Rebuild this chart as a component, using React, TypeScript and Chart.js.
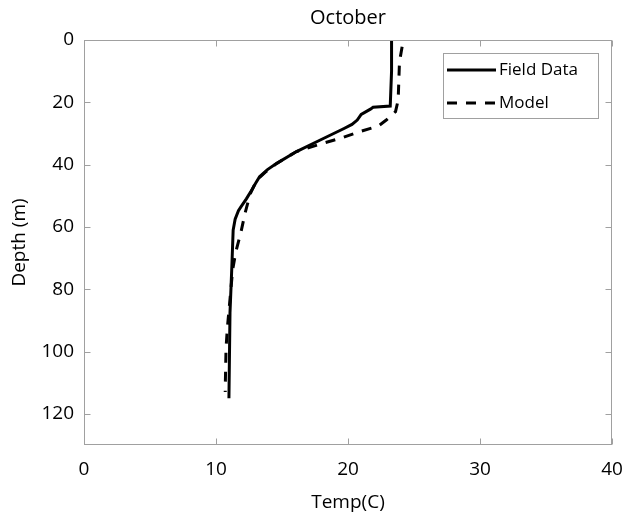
import React, { useEffect, useRef } from "react";
import { Chart, registerables } from "chart.js";

Chart.register(...registerables);

// ---- data ----
const chartTitle = "October";
const xLabel = "Temp(C)";
const yLabel = "Depth (m)";
const seriesLabels = ["Field Data", "Model"];

const fieldTemp = [23.3, 23.3, 23.2, 21.9, 21.7, 21.0, 20.7, 20.3, 19.7, 17.9, 16.1, 14.6, 13.9, 13.3, 13.0, 12.7, 12.3, 11.9, 11.7, 11.45, 11.3, 11.2, 11.06, 10.98];
const fieldDepth = [0, 10, 21.2, 21.6, 22.2, 23.9, 25.7, 27.1, 28.4, 32.1, 35.8, 39.6, 41.6, 43.9, 46, 48.2, 51, 53.5, 54.8, 57.5, 61, 72.8, 87.6, 115];

const modelTemp = [24.1, 23.9, 23.8, 23.6, 22.9, 22.3, 20.9, 19.4, 17.9, 16.1, 14.6, 13.8, 13.1, 12.6, 12.2, 11.9, 11.5, 11.26, 11.0, 10.86, 10.76, 10.7, 10.7];
const modelDepth = [2.2, 7.0, 19.3, 23, 25.7, 27.6, 29.4, 31.6, 33.4, 35.8, 39.6, 42.2, 44.9, 49.3, 55.6, 61.5, 68, 73.8, 86, 92.5, 99, 111.8, 113];

const xTicks = [0, 10, 20, 30, 40];
const yTicks = [0, 20, 40, 60, 80, 100, 120];
const xMin = 0, xMax = 40, yMin = 0, yMax = 130;

const FONT = "'Open Sans', 'Noto Sans', sans-serif";
const AXIS = "#a0a0a0";
const DASH = [10, 9];

const framePlugin = {
  id: "frame",
  afterDatasetsDraw(chart: any) {
    const { ctx, chartArea: a, scales } = chart;
    ctx.save();
    ctx.strokeStyle = AXIS;
    ctx.lineWidth = 1;
    ctx.setLineDash([]);
    const L = Math.round(a.left) + 0.5, R = Math.round(a.right) - 0.5;
    const T = Math.round(a.top) + 0.5, B = Math.round(a.bottom) - 0.5;
    ctx.strokeRect(L, T, R - L, B - T);
    const tl = 6;
    ctx.beginPath();
    for (const v of xTicks) {
      const px = Math.round(scales.x.getPixelForValue(v)) + 0.5;
      ctx.moveTo(px, B); ctx.lineTo(px, B - tl);
      ctx.moveTo(px, T); ctx.lineTo(px, T + tl);
    }
    for (const v of yTicks) {
      const py = Math.round(scales.y.getPixelForValue(v)) + 0.5;
      ctx.moveTo(L, py); ctx.lineTo(L + tl, py);
      ctx.moveTo(R, py); ctx.lineTo(R - tl, py);
    }
    ctx.stroke();
    ctx.restore();
  },
  afterDraw(chart: any) {
    const { ctx } = chart;
    const bx = 443, by = 53, bw = 155, bh = 65;
    ctx.save();
    ctx.fillStyle = "#fff";
    ctx.fillRect(bx, by, bw, bh);
    ctx.strokeStyle = AXIS;
    ctx.lineWidth = 1;
    ctx.strokeRect(bx + 0.5, by + 0.5, bw, bh);
    const rows = [by + 17, by + 50];
    chart.data.datasets.forEach((ds: any, i: number) => {
      const y = rows[i];
      ctx.strokeStyle = "#000";
      ctx.lineWidth = 3;
      ctx.setLineDash(ds.borderDash || []);
      ctx.beginPath();
      ctx.moveTo(447, y);
      ctx.lineTo(496, y);
      ctx.stroke();
      ctx.setLineDash([]);
      ctx.fillStyle = "#000";
      ctx.font = `17px ${FONT}`;
      ctx.textBaseline = "middle";
      ctx.textAlign = "left";
      ctx.fillText(ds.label, 499, y);
    });
    ctx.restore();
  },
};

export default function App() {
  const ref = useRef<HTMLCanvasElement | null>(null);
  useEffect(() => {
    if (!ref.current) return;
    const chart = new Chart(ref.current, {
      type: "scatter",
      data: {
        datasets: [
          {
            label: seriesLabels[0],
            data: fieldTemp.map((t, i) => ({ x: t, y: fieldDepth[i] })),
            showLine: true,
            borderColor: "#000",
            backgroundColor: "#000",
            borderWidth: 3,
            pointRadius: 0,
            tension: 0,
          },
          {
            label: seriesLabels[1],
            data: modelTemp.map((t, i) => ({ x: t, y: modelDepth[i] })),
            showLine: true,
            borderColor: "#000",
            backgroundColor: "#000",
            borderWidth: 3,
            borderDash: DASH,
            pointRadius: 0,
            tension: 0,
          },
        ],
      },
      options: {
        animation: false,
        responsive: false,
        maintainAspectRatio: false,
        layout: { padding: { left: 0, right: 16, top: 0, bottom: 0 } },
        plugins: {
          legend: { display: false },
          tooltip: { enabled: false },
          title: {
            display: true,
            text: chartTitle,
            fullSize: false,
            color: "#000",
            font: { family: FONT, size: 20, weight: "normal" },
            padding: { top: 6, bottom: 10 },
          },
        },
        scales: {
          x: {
            type: "linear",
            min: xMin,
            max: xMax,
            grid: { display: false, drawTicks: false },
            border: { display: false },
            afterBuildTicks: (s: any) => {
              s.ticks = xTicks.map((v) => ({ value: v }));
            },
            afterFit: (s: any) => {
              s.height = 72;
              s.paddingLeft = 0;
              s.paddingRight = 0;
            },
            ticks: {
              color: "#000",
              padding: 13,
              maxRotation: 0,
              font: { family: FONT, size: 19 },
              callback: (v: any) => String(v),
            },
            title: {
              display: true,
              text: xLabel,
              color: "#000",
              font: { family: FONT, size: 19 },
              padding: { top: 0, bottom: 3.5 },
            },
          },
          y: {
            type: "linear",
            reverse: true,
            min: yMin,
            max: yMax,
            grid: { display: false, drawTicks: false },
            border: { display: false },
            afterBuildTicks: (s: any) => {
              s.ticks = yTicks.map((v) => ({ value: v }));
            },
            afterFit: (s: any) => {
              s.width = 84;
              s.paddingTop = 0;
              s.paddingBottom = 0;
            },
            ticks: {
              color: "#000",
              padding: 10,
              font: { family: FONT, size: 19 },
              callback: (v: any) => String(v),
            },
            title: {
              display: true,
              text: yLabel,
              color: "#000",
              font: { family: FONT, size: 19 },
              padding: { top: 8.6, bottom: 0 },
            },
          },
        },
      },
      plugins: [framePlugin],
    } as any);
    return () => chart.destroy();
  }, []);
  return (
    <div style={{ position: "absolute", left: 0, top: 0, width: 628, height: 517, background: "#fff" }}>
      <canvas ref={ref} width={628} height={517} />
    </div>
  );
}
